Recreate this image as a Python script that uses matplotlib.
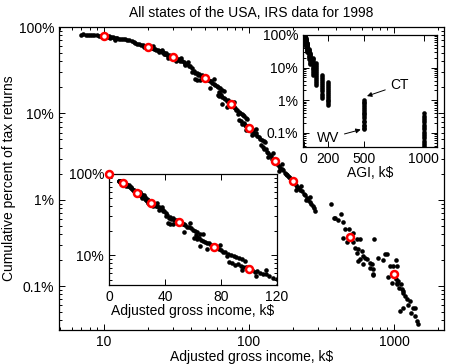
import numpy as np
import matplotlib
matplotlib.use('Agg')
import matplotlib.pyplot as plt
from matplotlib.ticker import FuncFormatter, LogLocator, NullFormatter, FixedLocator

plt.rcParams['font.family'] = ['Liberation Sans', 'DejaVu Sans']
plt.rcParams['font.size'] = 10

# state data, AGI rescaled by state (k$) and cumulative percent of returns
x_10 = [6.9, 7.2, 7.5, 7.8, 8.0, 8.3, 8.6, 8.9, 9.2, 9.5, 9.8, 10.3, 10.6, 10.9, 11.2, 11.5, 11.8, 12.1, 12.4, 12.8, 13.2, 13.6, 14.0, 14.4, 11.0, 12.0, 15.0, 15.5, 16.0]
y_10 = [81.5, 82, 81, 81.5, 80.5, 81, 80, 80.5, 79.5, 79, 79.5, 78, 77.5, 78, 76.5, 76, 75, 75.5, 74, 73.5, 73, 72, 72.5, 70.5, 74.5, 71.5, 70, 68.5, 67]
x_20 = [16.5, 17.0, 17.5, 18.0, 18.5, 19.0, 19.5, 20.5, 21.0, 21.5, 22.0, 22.5, 23.0, 23.5, 24.0, 24.5, 25.0, 25.5, 26.0, 26.8, 18.8, 21.8, 23.8, 25.2]
y_20 = [65, 63.5, 64, 61.5, 62, 60, 59.5, 58, 56.5, 57, 55.5, 56, 54, 54.5, 52.5, 53, 51.5, 52, 50, 49.5, 58.5, 59.5, 51, 54.5]
x_30 = [25.8, 26.5, 27.2, 28.0, 28.8, 29.5, 30.5, 31.2, 32.0, 32.8, 33.6, 34.5, 35.5, 36.5, 37.5, 38.5, 39.5, 40.5, 27.5, 31.5, 34.0, 36.0, 38.0]
y_30 = [49, 48.5, 47, 47.5, 45.5, 46, 43.5, 44, 42, 42.5, 40.5, 40, 39, 37.5, 37, 35.5, 35, 33.5, 44, 40.5, 44, 36, 39]
x_50 = [40.5, 41.5, 42.5, 43.5, 44.5, 45.5, 46.5, 47.5, 48.5, 51.5, 52.5, 53.5, 54.5, 55.5, 57, 58.5, 60, 61.5, 63, 65, 67, 42.4, 53.8, 46, 57.5, 62, 43.6]
y_50 = [30.5, 31, 29, 29.5, 28, 28.5, 27, 27.5, 26, 25, 24.5, 24, 23.5, 22.5, 22, 21.5, 20.5, 20, 19.5, 18.5, 18, 24.8, 19.5, 24.5, 25, 17.5, 24.2]
x_75 = [61, 62.5, 64, 65.5, 67, 68.5, 70, 71.5, 73, 77, 78.5, 80, 81.5, 83, 85, 87, 89, 91, 93, 95, 97, 63, 64.8, 70, 79, 84]
y_75 = [16.5, 16, 16.2, 15.3, 15, 14.6, 14, 14.2, 13.2, 12.2, 11.8, 11.6, 11, 10.9, 10.4, 10.1, 9.8, 9.5, 9.3, 8.9, 8.6, 16.9, 13, 12, 13.5, 9.8]
x_100 = [86, 88, 90, 92, 94, 96, 98, 102, 104, 106, 108, 110, 112, 114, 117, 120, 123, 126, 129, 95, 105, 112]
y_100 = [8.3, 8.1, 7.6, 7.8, 7.3, 7.1, 7.2, 6.6, 6.3, 6.4, 6.0, 5.8, 5.9, 5.5, 5.3, 5.1, 4.9, 4.8, 4.6, 6.5, 5.6, 6.6]
x_150 = [121, 124, 127, 130, 133, 136, 139, 142, 145, 154, 157, 160, 164, 168, 172, 176, 180, 184, 188, 135, 146, 162, 170]
y_150 = [4.3, 4.1, 3.9, 3.85, 3.6, 3.5, 3.3, 3.2, 3.0, 2.65, 2.6, 2.45, 2.35, 2.25, 2.2, 2.05, 2.0, 1.95, 1.85, 3.1, 3.5, 2.15, 2.6]
x_200 = [182, 188, 194, 205, 210, 215, 220, 226, 232, 238, 244, 250, 256, 262, 268, 274, 280, 286, 212, 228, 246, 262]
y_200 = [1.95, 1.85, 1.75, 1.55, 1.5, 1.42, 1.38, 1.3, 1.25, 1.18, 1.12, 1.05, 1.0, 0.95, 0.9, 0.85, 0.8, 0.75, 1.3, 1.45, 1.0, 1.08]
x_500 = [365, 387, 413, 431, 442, 459, 447, 476, 523, 583, 728, 538, 568, 552, 598, 614, 648, 583, 683, 780, 524, 552, 490, 392, 568, 631, 683, 713, 614]
y_500 = [0.9, 0.61, 0.585, 0.68, 0.55, 0.456, 0.365, 0.32, 0.32, 0.35, 0.35, 0.279, 0.267, 0.244, 0.255, 0.223, 0.204, 0.204, 0.187, 0.214, 0.417, 0.35, 0.456, 0.62, 0.195, 0.214, 0.163, 0.134, 0.18]
x_1000 = [702, 719, 867, 891, 843, 937, 979, 1043, 1032, 914, 962, 1043, 1087, 1128, 1146, 1188, 1233, 1288, 1256, 1347, 1396, 1099, 1159, 1302, 1396, 1432, 1471, 713, 1072, 1111, 1159, 1010, 1030, 1050]
y_1000 = [0.179, 0.137, 0.234, 0.234, 0.199, 0.171, 0.171, 0.171, 0.199, 0.127, 0.109, 0.105, 0.096, 0.092, 0.084, 0.077, 0.070, 0.067, 0.061, 0.056, 0.056, 0.051, 0.056, 0.049, 0.045, 0.039, 0.036, 0.156, 0.115, 0.105, 0.088, 0.13, 0.12, 0.11]

state_x = x_10 + x_20 + x_30 + x_50 + x_75 + x_100 + x_150 + x_200 + x_500 + x_1000
state_y = y_10 + y_20 + y_30 + y_50 + y_75 + y_100 + y_150 + y_200 + y_500 + y_1000

# average over all states (red circles)
avg_x = [0, 10, 20, 30, 50, 75, 100, 150, 200, 500, 1000]
avg_y = [100, 78, 58.5, 44.5, 25.5, 12.8, 6.8, 2.8, 1.65, 0.37, 0.138]

# raw AGI bins (not rescaled), percent for each state
agi_bins = [0, 5, 10, 15, 20, 25, 30, 40, 50, 75, 100, 150, 200, 500, 1000]
agi_pct = [
    [100, 99.5, 99],
    [97, 96, 95, 94, 93, 92, 91, 90, 88],
    [90, 88, 86, 84, 82, 80, 78, 76, 74, 72],
    [78, 75, 72, 69, 66, 63, 60, 57, 55],
    [68, 65, 62, 59, 56, 53, 50, 47, 45],
    [58, 55, 52, 49, 46, 43, 40, 37],
    [50, 47, 44, 41, 38, 35, 32, 30],
    [38, 35, 32, 29, 26, 23, 21, 19],
    [28, 26, 24, 22, 20, 18, 16, 14, 13],
    [20, 18, 16, 14, 12.5, 11, 10, 9, 8, 7, 6],
    [13.5, 12, 10.5, 9, 8, 7, 6, 5.2, 4.5, 4, 3.5, 3],
    [6, 5.3, 4.6, 4, 3.5, 3, 2.6, 2.2, 1.9, 1.6, 1.4, 1.2],
    [3.7, 3.2, 2.8, 2.4, 2.1, 1.8, 1.6, 1.4, 1.2, 1.05, 0.92, 0.8, 0.72],
    [1.03, 0.9, 0.8, 0.7, 0.62, 0.55, 0.48, 0.42, 0.37, 0.32, 0.28, 0.24, 0.21, 0.18, 0.16, 0.14, 0.13],
    [0.40, 0.34, 0.29, 0.25, 0.21, 0.18, 0.155, 0.13, 0.11, 0.095, 0.08, 0.068, 0.058, 0.05, 0.043, 0.037, 0.032],
]

pct_fmt = FuncFormatter(lambda v, pos: f"{v:g}%")
dot = dict(linestyle='none', marker='o', color='black', markersize=3.3, markeredgewidth=0)
ring = dict(linestyle='none', marker='o', markerfacecolor='white', markeredgecolor='red',
            markersize=5.0, markeredgewidth=1.8, zorder=5)


def style_axes(ax):
    ax.tick_params(which='both', direction='in', top=True, right=True, width=0.7)
    ax.tick_params(which='major', length=4.5)
    ax.tick_params(which='minor', length=2.5)
    for s in ax.spines.values():
        s.set_linewidth(0.9)


fig = plt.figure(figsize=(4.53, 3.64), dpi=100)

# main log-log plot
ax = fig.add_axes([0.1302, 0.0934, 0.85, 0.8324])
ax.plot(state_x, state_y, **dot)
ax.plot(avg_x[1:], avg_y[1:], **ring)
ax.set_xscale('log')
ax.set_yscale('log')
ax.set_xlim(4.9, 2210)
ax.set_ylim(0.031, 100)
ax.xaxis.set_major_locator(FixedLocator([10, 100, 1000]))
ax.xaxis.set_major_formatter(FuncFormatter(lambda v, pos: f"{v:g}"))
ax.xaxis.set_minor_locator(LogLocator(base=10, subs=np.arange(2, 10)))
ax.xaxis.set_minor_formatter(NullFormatter())
ax.yaxis.set_major_locator(FixedLocator([0.1, 1, 10, 100]))
ax.yaxis.set_major_formatter(pct_fmt)
ax.yaxis.set_minor_locator(LogLocator(base=10, subs=np.arange(2, 10)))
ax.yaxis.set_minor_formatter(NullFormatter())
style_axes(ax)
ax.set_xlabel('Adjusted gross income, k$', labelpad=1)
ax.set_ylabel('Cumulative percent of tax returns', labelpad=2)
ax.set_title('All states of the USA, IRS data for 1998', fontsize=10, pad=7)

# top-right inset: raw bins
ax2 = fig.add_axes([0.669, 0.596, 0.296, 0.308])
for b, vals in zip(agi_bins, agi_pct):
    ax2.plot([b] * len(vals), vals, **dot)
ax2.set_yscale('log')
ax2.set_xlim(-6, 1110)
ax2.set_ylim(0.037, 100)
ax2.xaxis.set_major_locator(FixedLocator([0, 200, 500, 1000]))
ax2.yaxis.set_major_locator(FixedLocator([0.1, 1, 10, 100]))
ax2.yaxis.set_major_formatter(pct_fmt)
ax2.yaxis.set_minor_locator(LogLocator(base=10, subs=np.arange(2, 10)))
ax2.yaxis.set_minor_formatter(NullFormatter())
style_axes(ax2)
ax2.set_xlabel('AGI, k$', labelpad=0)
arrow = dict(arrowstyle='-|>', color='black', lw=0.7, mutation_scale=7, shrinkA=2, shrinkB=1)
ax2.annotate('CT', xy=(515, 1.3), xytext=(800, 2.96), ha='center', va='center', arrowprops=arrow)
ax2.annotate('WV', xy=(485, 0.13), xytext=(200, 0.068), ha='center', va='center', arrowprops=arrow)

# bottom-left inset: linear income
ax3 = fig.add_axes([0.2406, 0.217, 0.371, 0.305])
in_x = [v for v in state_x if v <= 121]
in_y = [p for v, p in zip(state_x, state_y) if v <= 121]
ax3.plot(in_x, in_y, **dot)
ax3.plot(avg_x[:7], avg_y[:7], clip_on=False, **ring)
ax3.set_yscale('log')
ax3.set_xlim(0, 120)
ax3.set_ylim(4.3, 100)
ax3.xaxis.set_major_locator(FixedLocator([0, 40, 80, 120]))
ax3.yaxis.set_major_locator(FixedLocator([10, 100]))
ax3.yaxis.set_major_formatter(pct_fmt)
ax3.yaxis.set_minor_locator(LogLocator(base=10, subs=np.arange(2, 10)))
ax3.yaxis.set_minor_formatter(NullFormatter())
style_axes(ax3)
ax3.set_xlabel('Adjusted gross income, k$', labelpad=0)

fig.savefig('out.png', dpi=100)
